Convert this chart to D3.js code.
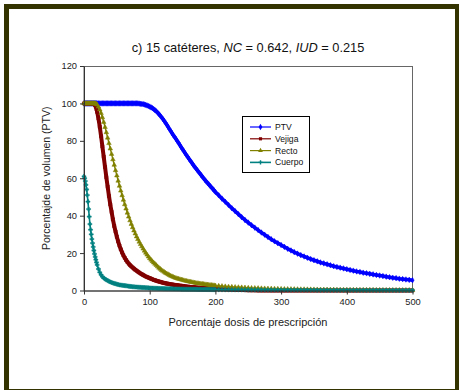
<!DOCTYPE html>
<html>
<head>
<meta charset="utf-8">
<script src="https://cdn.jsdelivr.net/npm/d3@7/dist/d3.min.js"></script>
<style>
  html, body { margin: 0; padding: 0; background: #fff; }
  svg { display: block; font-family: Arial, "Liberation Sans", sans-serif; }
</style>
</head>
<body>
<svg id="chart" width="459" height="390"></svg>
<script>
// Dose sampling (% of prescription): fine near zero, coarser in the tail
const dose = [].concat(d3.range(0, 20, 1), d3.range(20, 200, 2), d3.range(200, 501, 5));

const seriesNames = ["PTV", "Vejiga", "Recto", "Cuerpo"];

// PTV cumulative DVH (% volume)
const ptv = [
  100,100,100,100,100,100,100,100,100,100, 100,100,100,100,100,100,100,100,100,100,
  100,100,100,100,100,100,100,100,100,100,
  100,100,100,100,100,100,100,100,100,100,
  100,100,100,100,100,100,100,100,100,100,
  100,100,99.9,99.8,99.7,99.6,99.4,99.2,98.9,98.6,
  98.3,97.9,97.5,97.0,96.4,95.8,95.1,94.3,93.5,92.6,
  91.7,90.7,89.7,88.6,87.5,86.3,85.2,84.1,83.0,82.0,
  81.0,79.9,78.8,77.7,76.6,75.5,74.4,73.4,72.3,71.3,
  70.3,69.3,68.3,67.3,66.3,65.4,64.5,63.6,62.7,61.8,
  60.9,60.0,59.1,58.3,57.5,56.7,55.9,55.1,54.3,53.5,
  52.7,50.9,49.1,47.4,45.7,44.0,42.4,40.8,39.2,37.7,
  36.3,34.9,33.6,32.3,31.0,29.8,28.6,27.4,26.3,25.3,
  24.3,23.3,22.3,21.4,20.5,19.7,18.9,18.2,17.5,16.8,
  16.2,15.6,15.0,14.5,14.0,13.5,13.0,12.6,12.2,11.8,
  11.4,11.0,10.6,10.2,9.9,9.5,9.2,8.9,8.6,8.3,
  8.0,7.7,7.4,7.1,6.8,6.6,6.3,6.1,5.9,5.7,
  5.5
];

// Bladder (vejiga)
const vejiga = [
  100,100,100,100,100,100,100,100,100,100, 100,100,100,100,99.9,99.8,99.5,99.0,98.2,97.0,
  95.5,92.0,87.5,82.5,77.0,71.5,66.0,60.5,55.5,50.5,
  46.0,42.0,38.0,34.5,31.5,28.7,26.2,24.0,22.0,20.3,
  18.8,17.5,16.3,15.3,14.4,13.6,12.9,12.3,11.7,11.1,
  10.6,10.1,9.6,9.1,8.7,8.3,7.9,7.5,7.2,6.9,
  6.6,6.3,6.0,5.7,5.5,5.2,5.0,4.8,4.6,4.4,
  4.2,4.0,3.9,3.7,3.6,3.4,3.3,3.2,3.1,3.0,
  2.9,2.8,2.7,2.6,2.5,2.4,2.3,2.2,2.1,2.0,
  1.95,1.9,1.8,1.75,1.7,1.6,1.55,1.5,1.45,1.4,
  1.35,1.3,1.25,1.2,1.15,1.1,1.05,1.0,0.95,0.9,
  0.88,0.8,0.72,0.65,0.58,0.5,0.42,0.35,0.28,0.2,
  0.15,0.1,0.08,0.06,0.05,0.04,0.03,0.02,0.02,0.02,
  0.01,0.01,0.01,0.01,0.01,0.01,0.01,0.01,0.01,0.01,
  0.01,0.01,0.01,0.01,0.01,0.01,0.01,0.01,0.01,0.01,
  0,0,0,0,0,0,0,0,0,0,
  0,0,0,0,0,0,0,0,0,0,
  0
];

// Rectum (recto)
const recto = [
  100,100,100,100,100,100,100,100,100,100, 100,100,100,100,100,100,100,100,99.9,99.6,
  99.3,98.2,96.7,94.8,92.5,90.0,87.3,84.5,81.6,78.7,
  75.8,72.9,70.0,67.1,64.2,61.4,58.6,55.9,53.3,50.8,
  48.4,46.0,43.7,41.5,39.4,37.4,35.5,33.7,32.0,30.4,
  28.8,27.4,26.0,24.7,23.5,22.3,21.2,20.1,19.1,18.1,
  17.2,16.4,15.6,14.9,14.2,13.5,12.8,12.1,11.5,10.9,
  10.4,9.9,9.4,9.0,8.6,8.2,7.8,7.5,7.2,6.9,
  6.6,6.4,6.2,6.0,5.8,5.6,5.4,5.2,5.05,4.9,
  4.75,4.6,4.45,4.3,4.15,4.0,3.9,3.8,3.7,3.6,
  3.5,3.4,3.3,3.2,3.1,3.0,2.9,2.85,2.8,2.7,
  2.6,2.45,2.3,2.15,2.0,1.9,1.8,1.7,1.6,1.5,
  1.4,1.3,1.25,1.2,1.1,1.05,1.0,0.95,0.9,0.85,
  0.8,0.77,0.74,0.71,0.68,0.65,0.62,0.6,0.57,0.55,
  0.52,0.5,0.48,0.46,0.44,0.42,0.4,0.39,0.38,0.36,
  0.35,0.34,0.33,0.32,0.31,0.3,0.29,0.28,0.27,0.26,
  0.25,0.24,0.23,0.22,0.21,0.2,0.19,0.18,0.17,0.16,
  0.15
];

// Rest of body (cuerpo)
const cuerpo = [
  61,60,58.5,56.5,54,51,47.5,43.5,39.5,35.5, 32.5,30,27.5,25.3,23.3,21.4,19.6,18,16.5,15,
  13.7,11.5,9.7,8.4,7.4,6.7,6.1,5.7,5.3,4.9,
  4.6,4.3,4.0,3.8,3.6,3.4,3.2,3.0,2.9,2.8,
  2.7,2.6,2.5,2.4,2.3,2.2,2.1,2.0,1.95,1.9,
  1.85,1.8,1.75,1.7,1.65,1.6,1.55,1.5,1.45,1.4,
  1.35,1.3,1.27,1.24,1.21,1.18,1.15,1.12,1.09,1.06,
  1.03,1.0,0.98,0.96,0.94,0.92,0.9,0.88,0.86,0.84,
  0.82,0.8,0.78,0.76,0.74,0.72,0.7,0.69,0.68,0.67,
  0.66,0.65,0.64,0.63,0.62,0.61,0.6,0.59,0.58,0.57,
  0.56,0.55,0.54,0.53,0.52,0.51,0.5,0.49,0.48,0.47,
  0.46,0.45,0.44,0.43,0.42,0.41,0.4,0.39,0.38,0.37,
  0.36,0.35,0.34,0.33,0.32,0.31,0.3,0.29,0.28,0.27,
  0.26,0.25,0.25,0.24,0.24,0.23,0.23,0.22,0.22,0.21,
  0.21,0.2,0.2,0.19,0.19,0.18,0.18,0.17,0.17,0.16,
  0.16,0.15,0.15,0.15,0.14,0.14,0.14,0.13,0.13,0.13,
  0.12,0.12,0.12,0.11,0.11,0.11,0.1,0.1,0.1,0.1,
  0.1
];

const xTicks = [0, 100, 200, 300, 400, 500];
const yTicks = [0, 20, 40, 60, 80, 100, 120];

const colors = ["#0000ff", "#800000", "#808000", "#008080"];
const symbols = [d3.symbolDiamond, d3.symbolSquare, d3.symbolTriangle, d3.symbolCross];
const symbolSizes = [9, 10, 9, 9];
const lineWidths = [3.6, 4, 1.4, 1.6];
const legendSizes = [12, 10, 10, 10];

const svg = d3.select("#chart");

// outer frame
svg.append("rect")
  .attr("x", 6.5).attr("y", 6.5)
  .attr("width", 451).attr("height", 385)
  .attr("fill", "#fff")
  .attr("stroke", "#333300")
  .attr("stroke-width", 5);

const plot = { left: 84, top: 66, right: 412.5, bottom: 290.5 };

const x = d3.scaleLinear().domain([0, 500]).range([plot.left, plot.right]);
const y = d3.scaleLinear().domain([0, 120]).range([plot.bottom, plot.top]);

// plot area border
svg.append("rect")
  .attr("x", plot.left).attr("y", plot.top + 0.5)
  .attr("width", plot.right - plot.left).attr("height", plot.bottom - plot.top)
  .attr("fill", "#fff")
  .attr("stroke", "#666")
  .attr("stroke-width", 1);

// title
const title = svg.append("text")
  .attr("x", 248).attr("y", 52)
  .attr("text-anchor", "middle")
  .attr("font-size", 12.8)
  .attr("fill", "#111");
title.append("tspan").text("c) 15 catéteres, ");
title.append("tspan").attr("font-style", "italic").text("NC");
title.append("tspan").text(" = 0.642, ");
title.append("tspan").attr("font-style", "italic").text("IUD");
title.append("tspan").text(" = 0.215");

// series
const series = [ptv, vejiga, recto, cuerpo];
const line = d3.line().x(d => x(d[0])).y(d => y(d[1]));

series.forEach((vals, i) => {
  const pts = dose.map((d, j) => [d, vals[j]]).filter(p => p[1] !== undefined);
  const g = svg.append("g");
  g.append("path")
    .attr("d", line(pts))
    .attr("fill", "none")
    .attr("stroke", colors[i])
    .attr("stroke-width", lineWidths[i])
    .attr("stroke-linejoin", "round");
  const sym = d3.symbol().type(symbols[i]).size(symbolSizes[i]);
  g.selectAll("path.m").data(pts).join("path")
    .attr("class", "m")
    .attr("d", sym)
    .attr("transform", d => `translate(${x(d[0])},${y(d[1])})`)
    .attr("fill", colors[i])
    .attr("stroke", colors[i])
    .attr("stroke-width", 0.5);
});

// axes
const yAxis = d3.axisLeft(y).tickValues(yTicks).tickSize(4).tickSizeOuter(0).tickPadding(3);
const xAxis = d3.axisBottom(x).tickValues(xTicks).tickSize(4).tickSizeOuter(0).tickPadding(4);

const gy = svg.append("g").attr("transform", `translate(${plot.left},0)`).call(yAxis);
const gx = svg.append("g").attr("transform", `translate(0,${plot.bottom})`).call(xAxis);
[gx, gy].forEach(g => {
  g.select(".domain").attr("stroke", "#333");
  g.selectAll(".tick line").attr("stroke", "#333");
  g.selectAll(".tick text")
    .attr("font-family", "Arial, 'Liberation Sans', sans-serif")
    .attr("font-size", 9.3)
    .attr("fill", "#222");
});

// axis titles
svg.append("text")
  .attr("x", 248).attr("y", 325.5)
  .attr("text-anchor", "middle")
  .attr("font-size", 11)
  .attr("fill", "#222")
  .text("Porcentaje dosis de prescripción");

svg.append("text")
  .attr("transform", `translate(50,${(plot.top + plot.bottom) / 2}) rotate(-90)`)
  .attr("text-anchor", "middle")
  .attr("font-size", 10.5)
  .attr("fill", "#222")
  .text("Porcentajde de volumen (PTV)");

// legend
const lg = svg.append("g");
lg.append("rect")
  .attr("x", 242.5).attr("y", 116.5)
  .attr("width", 67).attr("height", 56)
  .attr("fill", "#fff")
  .attr("stroke", "#000")
  .attr("stroke-width", 1);
seriesNames.forEach((name, i) => {
  const yy = 127 + i * 11.8;
  lg.append("line")
    .attr("x1", 250).attr("x2", 271)
    .attr("y1", yy).attr("y2", yy)
    .attr("stroke", colors[i])
    .attr("stroke-width", i === 3 ? 1.6 : 1.2);
  lg.append("path")
    .attr("d", d3.symbol().type(symbols[i]).size(legendSizes[i])())
    .attr("transform", `translate(260.5,${yy})`)
    .attr("fill", colors[i]);
  lg.append("text")
    .attr("x", 275).attr("y", yy + 3)
    .attr("font-size", 8.6)
    .attr("fill", "#111")
    .text(name);
});
</script>
</body>
</html>
